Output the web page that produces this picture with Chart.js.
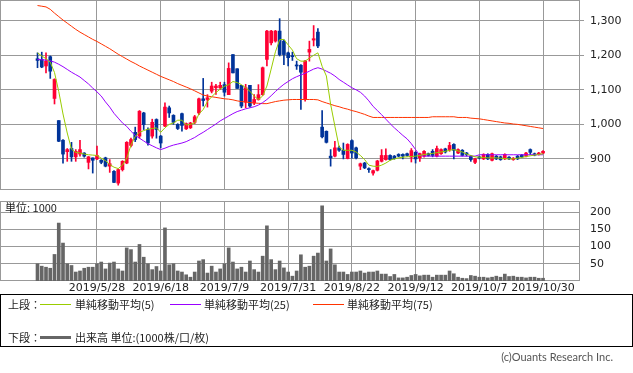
<!DOCTYPE html>
<html lang="ja">
<head>
<meta charset="utf-8">
<script src="https://cdn.jsdelivr.net/npm/chart.js@4/dist/chart.umd.min.js"></script>
<style>
  body { margin: 0; width: 633px; height: 373px; background: #fff; position: relative; overflow: hidden; }
  #precoBox { position: absolute; left: 0; top: 0; width: 633px; height: 191px; }
  #volumeBox { position: absolute; left: 0; top: 195px; width: 633px; height: 110px; }
  .txt { position: absolute; font: 11px 'Noto Sans CJK JP', sans-serif; color: #222; line-height: 14px; white-space: nowrap; }
  .legenda { position: absolute; left: 0; top: 294px; width: 631px; height: 51px; border: 1px solid #000; }
  .traco { position: absolute; height: 1px; }
  .copy { position: absolute; right: 20px; top: 350px; font: 11px Lato, sans-serif; color: #555; line-height: 14px; }
</style>
</head>
<body>
<div id="precoBox"><canvas id="graficoPreco"></canvas></div>
<div id="volumeBox"><canvas id="graficoVolume"></canvas></div>
<div class="txt" style="left:5px; top:200px;">単位: 1000</div>

<div class="legenda"></div>
<div class="txt" style="left:8px; top:297px;">上段：</div>
<div class="traco" style="left:40px; top:304px; width:31px; background:#99cc00;"></div>
<div class="txt" style="left:75px; top:297px;">単純移動平均(5)</div>
<div class="traco" style="left:170px; top:304px; width:31px; background:#9900ff;"></div>
<div class="txt" style="left:204px; top:297px;">単純移動平均(25)</div>
<div class="traco" style="left:313px; top:304px; width:31px; background:#ff3300;"></div>
<div class="txt" style="left:347px; top:297px;">単純移動平均(75)</div>
<div class="txt" style="left:8px; top:330px;">下段：</div>
<div class="traco" style="left:40px; top:336px; width:31px; height:3px; background:#666;"></div>
<div class="txt" style="left:75px; top:330px;">出来高 単位:(1000株/口/枚)</div>
<div class="copy">(c)Ouants Research Inc.</div>

<script>
// ===== Dados =====
const OPEN = [1190,1188,1169,1196,1075,1011,954,921,930,906,914,917,890,903,900,896,903,879,864,830,
  869,888,939,977,966,1033,985,966,1014,966,995,1048,1026,1000,1031,987,990,1006,1033,1074,
  1072,1096,1106,1106,1115,1086,1202,1161,1113,1064,1113,1062,1072,1086,1188,1236,1241,1270,1241,1207,
  1198,1172,1171,1074,1209,1244,1267,992,980,908,908,932,925,901,953,932,879,888,871,859,
  867,893,898,910,908,913,913,915,905,919,903,908,915,922,908,915,929,927,942,917,
  925,917,908,890,905,900,913,896,908,906,900,905,898,908,911,908,927,915,913,917];
const HIGH = [1207,1209,1207,1198,1132,1011,956,930,948,927,954,918,907,903,937,898,905,898,866,871,
  895,950,960,992,1040,1035,990,1015,1016,968,1062,1053,1028,1002,1033,1004,1006,1026,1076,1133,
  1086,1122,1116,1122,1122,1178,1202,1161,1113,1116,1113,1086,1115,1166,1272,1272,1272,1306,1245,1209,
  1209,1183,1173,1185,1241,1286,1277,1040,981,927,951,937,946,944,955,934,888,890,874,868,
  896,927,929,912,910,915,915,917,930,921,917,924,917,927,937,929,931,948,944,929,
  927,919,910,902,908,915,915,917,910,908,915,907,904,910,913,919,929,917,919,924];
const LOW = [1164,1164,1149,1133,1059,950,888,893,893,893,908,905,871,859,898,886,877,861,831,824,
  865,886,935,950,960,985,940,960,960,932,993,1020,1000,985,980,985,988,1002,1028,1053,
  1050,1091,1087,1101,1082,1086,1149,1104,1048,1048,1050,1057,1070,1084,1169,1230,1238,1198,1173,1169,
  1185,1159,1043,1067,1183,1227,1222,961,946,879,906,922,900,900,902,900,869,872,861,853,
  865,891,896,896,899,906,900,908,891,888,893,905,908,906,906,913,917,922,900,915,
  908,908,893,886,900,898,898,894,898,896,898,898,896,898,904,906,913,909,911,915];
const CLOSE = [1185,1166,1183,1154,1130,951,914,927,906,922,927,908,906,896,910,890,879,886,832,869,
  893,948,956,956,1038,999,946,1006,985,946,1050,1033,1006,988,997,1002,1004,1022,1074,1069,
  1077,1111,1111,1113,1093,1162,1149,1104,1053,1106,1053,1072,1086,1164,1270,1270,1270,1202,1202,1193,
  1196,1169,1151,1183,1217,1248,1227,964,948,903,932,925,913,942,917,903,886,874,869,866,
  894,910,910,898,901,908,908,910,924,900,915,922,910,910,930,927,920,939,925,927,
  910,913,898,900,903,913,900,915,900,898,913,900,902,900,906,917,919,911,917,922];

const MA5 = [1207,1198,1190,1180,1150,1095,1030,975,928,919,917,914,912,911,910,902,895,884,876,872,
  882,902,940,965,977,982,986,988,990,977,990,1000,1004,1012,1012,998,1000,1004,1030,1043,
  1066,1080,1092,1102,1110,1115,1124,1121,1115,1106,1096,1082,1072,1082,1111,1160,1210,1245,1246,1230,
  1215,1190,1183,1183,1192,1200,1207,1168,1140,1058,995,934,925,925,925,920,910,898,882,879,
  878,882,888,896,900,903,905,906,907,908,910,913,914,916,918,920,922,925,927,923,
  920,914,910,906,905,904,903,903,903,902,901,900,900,902,904,907,909,911,913,915];
const MA25 = [1188,1187,1186,1184,1180,1174,1167,1159,1151,1144,1137,1127,1117,1105,1094,1082,1065,1050,1032,1018,
  1004,994,980,968,960,952,944,938,932,927,931,936,940,943,946,950,956,962,970,977,
  985,993,1001,1010,1017,1024,1031,1037,1041,1045,1048,1051,1056,1063,1072,1083,1095,1106,1116,1124,
  1132,1138,1143,1148,1154,1160,1164,1160,1154,1148,1140,1130,1122,1114,1106,1100,1093,1082,1068,1052,
  1040,1028,1015,1002,990,979,968,958,944,927,910,908,908,908,908,908,908,908,908,908,
  908,908,908,908,912,912,912,912,912,912,912,912,912,912,912,912,912,912,912,912];
const MA75 = [1344,1342,1340,1333,1322,1312,1302,1293,1284,1275,1267,1260,1253,1246,1240,1233,1226,1219,1211,1203,
  1196,1189,1182,1176,1169,1163,1157,1151,1145,1139,1134,1129,1124,1118,1113,1108,1103,1097,1091,1085,
  1082,1080,1078,1076,1074,1073,1071,1068,1066,1065,1063,1062,1061,1060,1060,1063,1066,1068,1070,1071,
  1072,1072,1072,1072,1072,1072,1071,1066,1062,1058,1054,1051,1047,1044,1040,1037,1033,1029,1024,1020,
  1020,1020,1020,1020,1020,1020,1020,1020,1020,1020,1020,1020,1020,1022,1022,1022,1022,1022,1022,1020,
  1020,1020,1018,1017,1016,1014,1012,1010,1008,1006,1004,1003,1001,1000,998,996,994,992,990,988];

const VOLUME = [50,43,40,37,77,168,110,50,45,26,29,37,40,40,50,55,35,52,55,35,
  29,96,91,55,106,69,50,33,42,29,154,47,50,29,26,18,11,26,58,62,
  23,43,26,35,50,96,55,35,40,26,58,33,26,72,160,62,33,58,38,26,
  14,29,76,40,43,72,81,218,58,93,47,26,26,19,26,26,29,23,26,26,
  29,20,20,13,19,9,9,11,16,19,15,17,17,11,17,17,17,29,21,11,
  8,7,16,14,11,11,9,11,14,11,20,13,14,11,11,9,11,11,8,8];

// ===== Eixos =====
const TICK_INDEX = [14, 29, 44, 59, 74, 89, 104, 119];
const TICK_LABELS = ['2019/5/28', '2019/6/18', '2019/7/9', '2019/7/31', '2019/8/22', '2019/9/12', '2019/10/7', '2019/10/30'];
const PRICE_TICKS = [900, 1000, 1100, 1200, 1300];
const VOLUME_TICKS = [50, 100, 150, 200];

const COR_ALTA = '#ff0033';
const COR_BAIXA = '#003399';
const COR_GRADE = '#999999';

const indices = CLOSE.map((_, i) => i);
const coresVela = indices.map((i) => (CLOSE[i] >= OPEN[i] ? COR_ALTA : COR_BAIXA));

// ===== Plugin: moldura do painel =====
const molduraPlugin = {
  id: 'moldura',
  beforeDatasetsDraw(chart) {
    const { ctx, chartArea: { left, top, right, bottom } } = chart;
    ctx.save();
    ctx.strokeStyle = COR_GRADE;
    ctx.lineWidth = 1;
    ctx.strokeRect(left + 0.5, top + 0.5, right - left - 1, bottom - top - 1);
    ctx.restore();
  },
};

function eixoX(mostrarRotulos) {
  return {
    type: 'linear',
    min: -8.83,
    max: 127.7,
    offset: false,
    afterBuildTicks: (s) => { s.ticks = TICK_INDEX.map((v) => ({ value: v })); },
    ticks: {
      display: mostrarRotulos,
      autoSkip: false,
      maxRotation: 0,
      padding: 1,
      color: '#222',
      font: { family: 'DejaVu Sans', size: 11 },
      callback: (v) => TICK_LABELS[TICK_INDEX.indexOf(v)],
    },
    grid: { color: COR_GRADE, drawTicks: false, offset: false },
    border: { display: false },
    afterFit: (s) => {
      s.height = mostrarRotulos ? 24 : 0;
      s.paddingLeft = 0;
      s.paddingRight = 0;
    },
  };
}

function linha(valores, cor) {
  return {
    type: 'line',
    data: indices.map((i) => ({ x: i, y: valores[i] })),
    borderColor: cor,
    borderWidth: 1,
    pointRadius: 0,
    tension: 0,
    order: 0,
  };
}

// ===== Gráfico de preços (velas + médias) =====
new Chart(document.getElementById('graficoPreco'), {
  type: 'bar',
  data: {
    datasets: [
      linha(MA5, '#99cc00'),
      linha(MA25, '#9900ff'),
      linha(MA75, '#ff3300'),
      {
        data: indices.map((i) => ({ x: i, y: [OPEN[i], CLOSE[i]] })),
        backgroundColor: coresVela,
        barThickness: 3,
        minBarLength: 1,
        grouped: false,
        order: 1,
      },
      {
        data: indices.map((i) => ({ x: i, y: [LOW[i], HIGH[i]] })),
        backgroundColor: coresVela,
        barThickness: 1,
        grouped: false,
        order: 2,
      },
    ],
  },
  options: {
    responsive: true,
    maintainAspectRatio: false,
    animation: false,
    layout: { padding: { left: 0, right: 0, top: 0, bottom: 1 } },
    plugins: { legend: { display: false }, tooltip: { enabled: false } },
    scales: {
      x: eixoX(false),
      y: {
        position: 'right',
        min: 810,
        max: 1360,
        afterBuildTicks: (s) => { s.ticks = PRICE_TICKS.map((v) => ({ value: v })); },
        ticks: {
          padding: 6,
          color: '#222',
          font: { family: 'DejaVu Sans', size: 11 },
          callback: (v) => v.toLocaleString('en-US'),
        },
        grid: { color: COR_GRADE, tickLength: 4 },
        border: { display: false },
        afterFit: (s) => { s.width = 53; s.paddingTop = 0; s.paddingBottom = 0; },
      },
    },
  },
  plugins: [molduraPlugin],
});

// ===== Gráfico de volume =====
new Chart(document.getElementById('graficoVolume'), {
  type: 'bar',
  data: {
    datasets: [{
      data: indices.map((i) => ({ x: i, y: VOLUME[i] })),
      backgroundColor: '#666666',
      barThickness: 3,
    }],
  },
  options: {
    responsive: true,
    maintainAspectRatio: false,
    animation: false,
    layout: { padding: { left: 0, right: 0, top: 6, bottom: 0 } },
    plugins: { legend: { display: false }, tooltip: { enabled: false } },
    scales: {
      x: eixoX(true),
      y: {
        position: 'right',
        min: 0,
        max: 232,
        afterBuildTicks: (s) => { s.ticks = VOLUME_TICKS.map((v) => ({ value: v })); },
        ticks: {
          padding: 10,
          color: '#222',
          font: { family: 'DejaVu Sans', size: 11 },
        },
        grid: { color: COR_GRADE, drawTicks: false },
        border: { display: false },
        afterFit: (s) => { s.width = 53; s.paddingTop = 0; s.paddingBottom = 0; },
      },
    },
  },
  plugins: [molduraPlugin],
});
</script>
</body>
</html>
